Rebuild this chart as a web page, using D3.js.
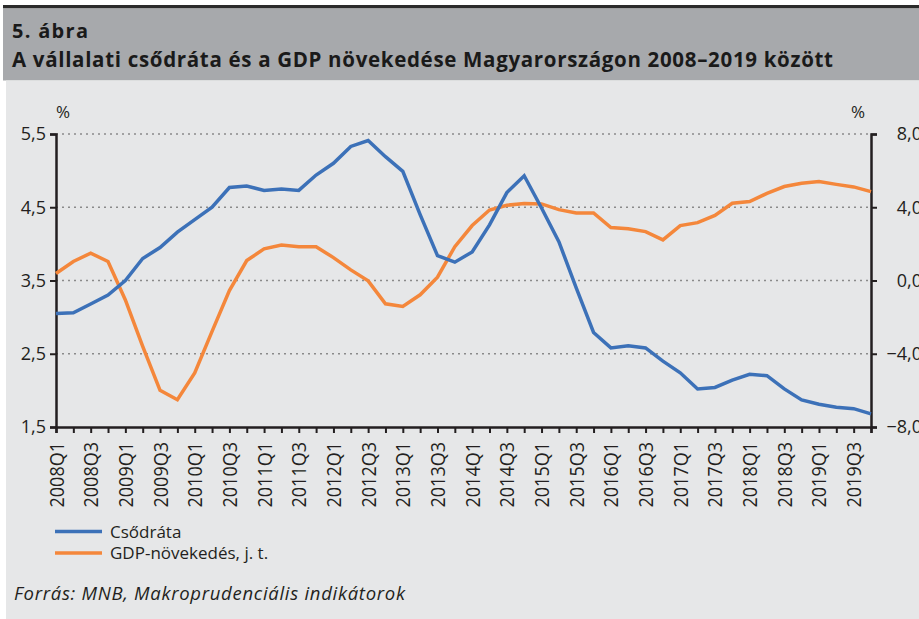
<!DOCTYPE html>
<html>
<head>
<meta charset="utf-8">
<script src="https://cdn.jsdelivr.net/npm/d3@7"></script>
<style>
  body { margin: 0; background: #ffffff; }
  svg { display: block; font-family: "Open Sans", sans-serif; }
</style>
</head>
<body>
<script>
var quarters = ["2008Q1","2008Q2","2008Q3","2008Q4","2009Q1","2009Q2","2009Q3","2009Q4",
  "2010Q1","2010Q2","2010Q3","2010Q4","2011Q1","2011Q2","2011Q3","2011Q4",
  "2012Q1","2012Q2","2012Q3","2012Q4","2013Q1","2013Q2","2013Q3","2013Q4",
  "2014Q1","2014Q2","2014Q3","2014Q4","2015Q1","2015Q2","2015Q3","2015Q4",
  "2016Q1","2016Q2","2016Q3","2016Q4","2017Q1","2017Q2","2017Q3","2017Q4",
  "2018Q1","2018Q2","2018Q3","2018Q4","2019Q1","2019Q2","2019Q3","2019Q4"];

// Csődráta (bal tengely)
var csodrata = [3.05,3.06,3.18,3.30,3.50,3.80,3.95,4.16,
  4.33,4.50,4.77,4.79,4.73,4.75,4.73,4.94,
  5.10,5.33,5.41,5.19,4.99,4.40,3.84,3.75,
  3.89,4.26,4.70,4.93,4.49,4.03,3.40,2.79,
  2.58,2.61,2.58,2.40,2.24,2.02,2.04,2.14,
  2.22,2.20,2.02,1.87,1.81,1.77,1.75,1.68];

// GDP-növekedés (jobb tengely)
var gdp = [0.38,1.04,1.49,1.04,-1.06,-3.60,-6.00,-6.51,
  -5.05,-2.78,-0.55,1.09,1.73,1.94,1.84,1.84,
  1.25,0.58,-0.02,-1.27,-1.42,-0.78,0.18,1.85,
  3.00,3.85,4.11,4.20,4.18,3.87,3.69,3.69,
  2.89,2.82,2.67,2.22,3.00,3.16,3.55,4.22,
  4.31,4.76,5.13,5.31,5.40,5.25,5.11,4.85];

var leftTicks = [1.5,2.5,3.5,4.5,5.5];
var rightTicks = [-8,-4,0,4,8];
var seriesNames = ["Csődráta","GDP-növekedés, j. t."];
var colors = ["#3c71b8","#f4873b"];

var width = 919, height = 619;
var plotLeft = 56, plotRight = 871, plotTop = 134, plotBottom = 427;
var ink = "#231f20";

var svg = d3.select("body").append("svg")
  .attr("width", width)
  .attr("height", height);

// hátterek
svg.append("rect").attr("x",3).attr("y",5).attr("width",916).attr("height",3.5).attr("fill","#2b2b2b");
svg.append("rect").attr("x",3).attr("y",8.5).attr("width",916).attr("height",72).attr("fill","#a7a9ac");
svg.append("rect").attr("x",6).attr("y",80.5).attr("width",913).attr("height",539).attr("fill","#e6e7e8");

svg.append("text").attr("x",12).attr("y",38)
  .attr("font-size",20).attr("font-weight","bold").attr("fill","#1a1a1a")
  .attr("textLength",76).attr("lengthAdjust","spacing")
  .text("5. ábra");
svg.append("text").attr("x",12).attr("y",67)
  .attr("font-size",20.5).attr("font-weight","bold").attr("fill","#1a1a1a")
  .attr("textLength",821).attr("lengthAdjust","spacing")
  .text("A vállalati csődráta és a GDP növekedése Magyarországon 2008–2019 között");

var x = d3.scalePoint().domain(quarters).range([plotLeft, plotRight]);
var yL = d3.scaleLinear().domain([1.5,5.5]).range([plotBottom, plotTop]);
var yR = d3.scaleLinear().domain([-8,8]).range([plotBottom, plotTop]);

var fmt = function(d){ return d3.format(".1f")(d).replace(".", ",").replace("-", "−"); };

// rácsvonalak
svg.append("g").selectAll("line")
  .data(leftTicks.slice(1))
  .enter().append("line")
  .attr("x1", plotLeft).attr("x2", plotRight)
  .attr("y1", function(d){ return yL(d); })
  .attr("y2", function(d){ return yL(d); })
  .attr("stroke","#8a8a8a").attr("stroke-width",1.5)
  .attr("stroke-dasharray","2,4");

// tengelyek
var axL = svg.append("g").attr("transform","translate(" + plotLeft + ",0)")
  .call(d3.axisLeft(yL).tickValues(leftTicks).tickSize(6).tickFormat(fmt));
var axR = svg.append("g").attr("transform","translate(" + plotRight + ",0)")
  .call(d3.axisRight(yR).tickValues(rightTicks).tickSize(6).tickFormat(fmt));
var axB = svg.append("g").attr("transform","translate(0," + plotBottom + ")")
  .call(d3.axisBottom(x).tickSize(6).tickFormat(""));

[axL, axR, axB].forEach(function(a){
  a.select(".domain").attr("stroke",ink).attr("stroke-width",2.5);
  a.selectAll(".tick line").attr("stroke",ink).attr("stroke-width",2);
  a.selectAll("text").attr("font-size",18).attr("fill",ink)
    .attr("font-family","'Open Sans', sans-serif");
});
axL.selectAll("text").attr("x",-10);
axR.selectAll("text").attr("text-anchor","end").attr("x",51);

// x feliratok
svg.append("g").selectAll("text")
  .data(quarters.filter(function(d,i){ return i % 2 === 0; }))
  .enter().append("text")
  .attr("transform", function(d){ return "translate(" + (x(d) + 7.5) + ",442) rotate(-90) scale(1,1.12)"; })
  .attr("text-anchor","end")
  .attr("font-size",18).attr("fill",ink)
  .text(function(d){ return d; });

svg.append("text").attr("x",63).attr("y",118).attr("text-anchor","middle")
  .attr("font-size",17).attr("fill",ink).text("%");
svg.append("text").attr("x",858).attr("y",118).attr("text-anchor","middle")
  .attr("font-size",17).attr("fill",ink).text("%");

// vonalak
var lineL = d3.line().x(function(d,i){ return x(quarters[i]); }).y(function(d){ return yL(d); });
var lineR = d3.line().x(function(d,i){ return x(quarters[i]); }).y(function(d){ return yR(d); });

svg.append("path").datum(gdp).attr("d", lineR)
  .attr("fill","none").attr("stroke",colors[1]).attr("stroke-width",3.5);
svg.append("path").datum(csodrata).attr("d", lineL)
  .attr("fill","none").attr("stroke",colors[0]).attr("stroke-width",3.5);

// jelmagyarázat
var leg = svg.append("g").selectAll("g")
  .data(seriesNames)
  .enter().append("g")
  .attr("transform", function(d,i){ return "translate(0," + (531.5 + i*21.5) + ")"; });
leg.append("line").attr("x1",55).attr("x2",102)
  .attr("stroke", function(d,i){ return colors[i]; }).attr("stroke-width",3.5);
leg.append("text").attr("x",110).attr("y",6)
  .attr("font-size",17).attr("fill",ink)
  .text(function(d){ return d; });

svg.append("text").attr("x",14).attr("y",600)
  .attr("font-size",18.5).attr("font-style","italic").attr("fill",ink)
  .attr("textLength",391).attr("lengthAdjust","spacing")
  .text("Forrás: MNB, Makroprudenciális indikátorok");
</script>
</body>
</html>
